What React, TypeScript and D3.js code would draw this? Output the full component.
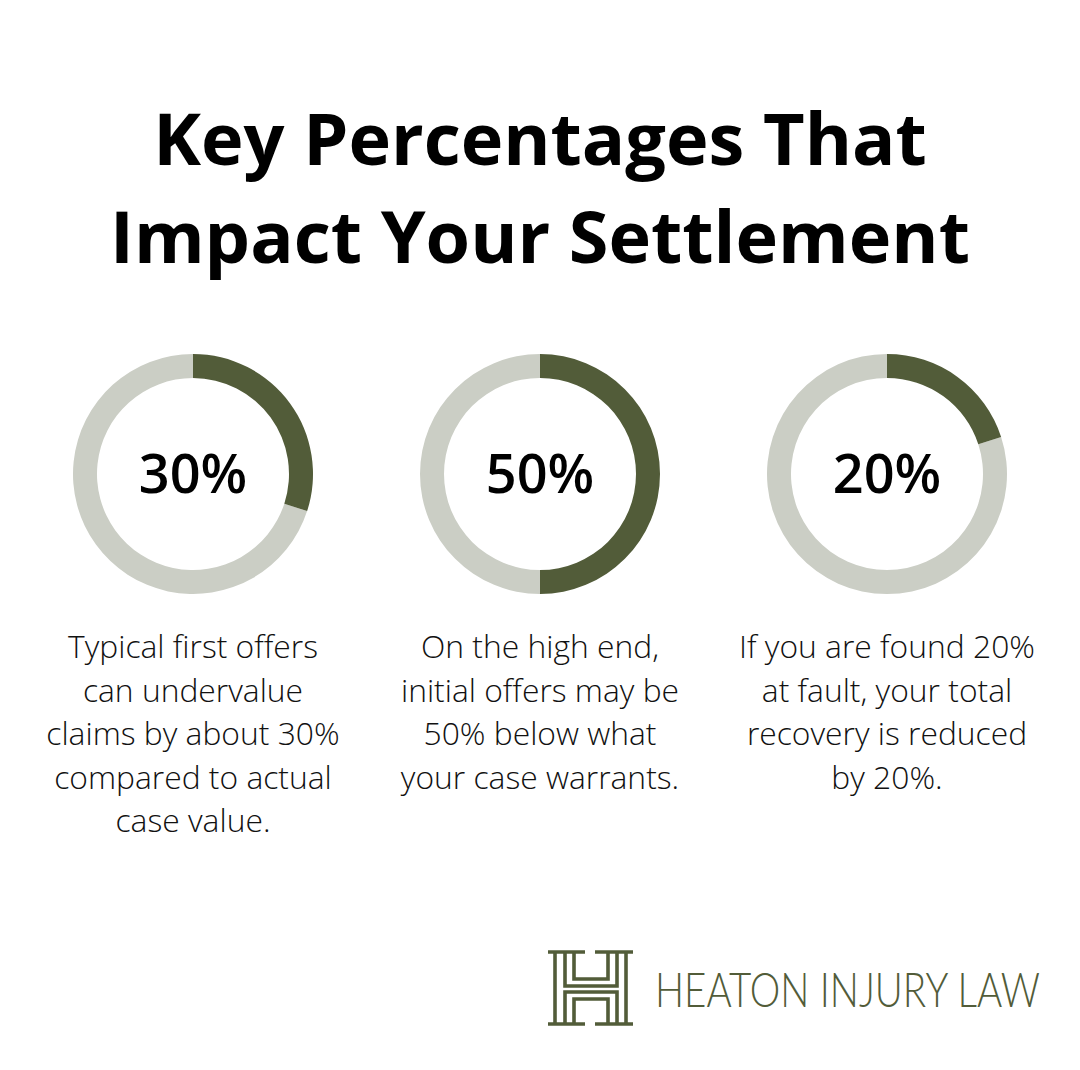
import React, { useEffect, useRef } from 'react';
import * as d3 from 'd3';

const WIDTH = 1080;
const HEIGHT = 1070;

const titleLines = ['Key Percentages That', 'Impact Your Settlement'];

const percentages = [30, 50, 20];

const descriptions = [
  ['Typical first offers', 'can undervalue', 'claims by about 30%', 'compared to actual', 'case value.'],
  ['On the high end,', 'initial offers may be', '50% below what', 'your case warrants.'],
  ['If you are found 20%', 'at fault, your total', 'recovery is reduced', 'by 20%.'],
];

const DARK = '#525c39';
const LIGHT = '#cbcec5';

const App: React.FC = () => {
  const svgRef = useRef<SVGSVGElement>(null);

  useEffect(() => {
    if (!svgRef.current) return;
    const svg = d3.select(svgRef.current);
    svg.selectAll('*').remove();

    svg.append('rect').attr('width', WIDTH).attr('height', HEIGHT).attr('fill', '#ffffff');

    // Title
    svg.append('g')
      .selectAll('text')
      .data(titleLines)
      .join('text')
      .attr('x', WIDTH / 2)
      .attr('y', (_, i) => 165 + i * 98)
      .attr('text-anchor', 'middle')
      .attr('font-family', '"Open Sans", sans-serif')
      .attr('font-weight', 700)
      .attr('font-size', 72)
      .attr('fill', '#000')
      .text(d => d);

    // Donut columns
    const x = d3.scalePoint<number>().domain(d3.range(percentages.length)).range([193, 887]);
    const cy = 474;
    const pct = d3.scaleLinear().domain([0, 100]).range([0, 2 * Math.PI]);
    const arc = d3.arc<{ start: number; end: number }>()
      .innerRadius(96)
      .outerRadius(120)
      .startAngle(d => d.start)
      .endAngle(d => d.end);

    percentages.forEach((p, i) => {
      const g = svg.append('g').attr('transform', `translate(${x(i)},${cy})`);
      g.append('path')
        .attr('d', arc({ start: pct(p), end: pct(100) }) as string)
        .attr('fill', LIGHT);
      g.append('path')
        .attr('d', arc({ start: 0, end: pct(p) }) as string)
        .attr('fill', DARK);
      g.append('text')
        .attr('y', 19)
        .attr('text-anchor', 'middle')
        .attr('font-family', '"Open Sans", sans-serif')
        .attr('font-weight', 600)
        .attr('font-size', 54)
        .attr('fill', '#000')
        .text(`${p}%`);

      svg.append('g')
        .selectAll('text')
        .data(descriptions[i])
        .join('text')
        .attr('x', x(i)!)
        .attr('y', (_, j) => 658 + j * 43.6)
        .attr('text-anchor', 'middle')
        .attr('font-family', '"Open Sans", sans-serif')
        .attr('font-weight', 300)
        .attr('font-size', 31.8)
        .attr('fill', '#111')
        .text(d => d);
    });

    // Logo monogram
    const logo = svg.append('g').attr('fill', 'none').attr('stroke', DARK).attr('stroke-width', 3.6);
    const serifs = [
      [548, 585, 952], [595, 633, 952], [548, 585, 1024], [595, 633, 1024],
    ];
    serifs.forEach(([x1, x2, y]) => {
      logo.append('line').attr('x1', x1).attr('x2', x2).attr('y1', y).attr('y2', y);
    });
    [555, 626].forEach(vx => {
      logo.append('line').attr('x1', vx).attr('x2', vx).attr('y1', 952).attr('y2', 1024);
    });
    const monoPaths = [
      'M565,952V986H617V952',
      'M565,1024V992H617V1024',
      'M574,952V979H608V952',
      'M574,1024V999H608V1024',
    ];
    monoPaths.forEach(d => logo.append('path').attr('d', d));

    // wordmark, squeezed horizontally to the logo width
    const wordmark = svg.append('g');
    const wm = wordmark.append('text')
      .attr('x', 0)
      .attr('y', 0)
      .attr('font-family', 'Lato, sans-serif')
      .attr('font-weight', 300)
      .attr('font-size', 48)
      .attr('fill', DARK)
      .text('HEATON INJURY LAW');
    const len = (wm.node() as SVGTextElement).getComputedTextLength() || 385;
    wordmark.attr('transform', `translate(655,1007) scale(${385 / len},1)`);
  }, []);

  return (
    <svg
      ref={svgRef}
      width={WIDTH}
      height={HEIGHT}
      style={{ position: 'absolute', left: 0, top: 0, display: 'block' }}
    />
  );
};

export default App;
